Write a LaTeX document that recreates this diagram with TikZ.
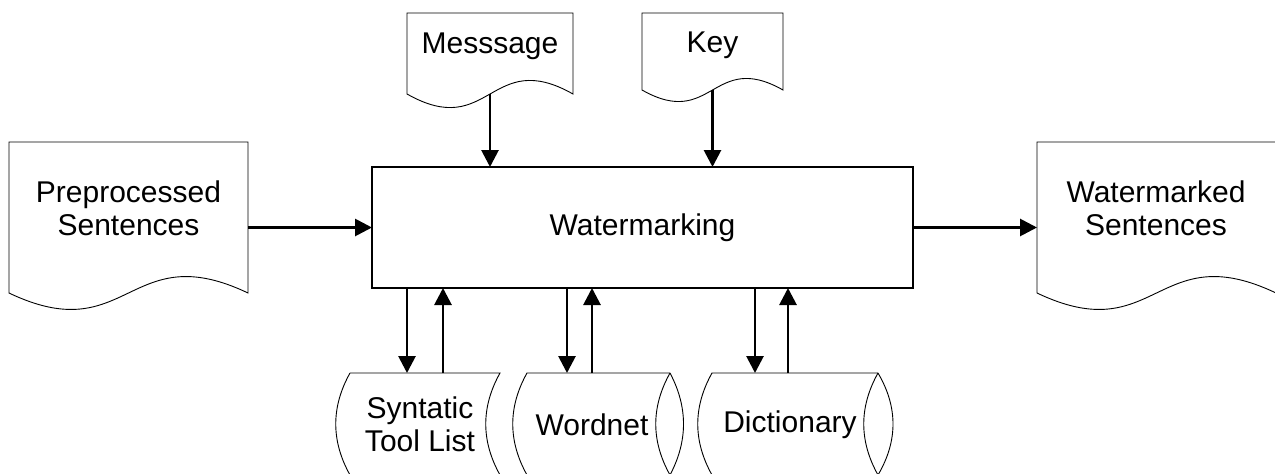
\documentclass[tikz,border=0pt]{standalone}
\usepackage{fontspec}
\setmainfont{Liberation Sans}
\usetikzlibrary{arrows.meta}

% document symbol: flat top, straight sides, wavy bottom
\newcommand\docshape[2]{%
  \draw[outline] (#1.north west) -- (#1.north east) -- (#1.south east)
    .. controls ([yshift=#2]#1.south) and ([yshift=-#2]#1.south) .. (#1.south west) -- cycle;}
% left-hand curved edge of a storage symbol (bulges outwards to the left)
\newcommand\leftarc[3]{%
  (#1) .. controls ([shift={(-#3,34)}]#1) and ([shift={(-#3,-34)}]#2) .. (#2)}

\begin{document}
\begin{tikzpicture}[x=1pt,y=-1pt,
  outline/.style={draw=black, line width=0.9pt},
  frame/.style={inner sep=0pt, outer sep=0pt, draw=none},
  lbl/.style={font=\fontsize{30}{33}\selectfont, align=center, inner sep=0pt},
  procbox/.style={draw=black, line width=1.2pt, inner sep=0pt, outer sep=0pt},
  arr/.style={line width=2.8pt, -{Triangle[width=17pt,length=17pt]}},
]
\useasboundingbox (0,0) rectangle (1275,474);
\clip (0,0) rectangle (1275,474);

% central process
\node[procbox, lbl, minimum width=541pt, minimum height=121pt] (wm) at (642.5,227.5) {Watermarking};

% input and output documents
\node[frame, minimum width=239pt, minimum height=151pt] (pre) at (128.5,217.5) {};
\docshape{pre}{57pt}
\node[lbl] (pretext) at (128.5,208) {Preprocessed\\Sentences};

\node[frame, minimum width=166pt, minimum height=81pt] (msg) at (490,53.5) {};
\docshape{msg}{47pt}
\node[lbl] (msgtext) at (490,46) {Messsage};

\node[frame, minimum width=141pt, minimum height=77pt] (key) at (712.5,51.5) {};
\docshape{key}{40pt}
\node[lbl] (keytext) at (712.5,45) {Key};

\node[frame, minimum width=239pt, minimum height=151pt] (out) at (1156.5,217.5) {};
\docshape{out}{57pt}
\node[lbl] (outtext) at (1156,208) {Watermarked\\Sentences};

% stored data: syntactic tool list
\node[frame, minimum width=150pt, minimum height=102pt] (syn) at (425,424) {};
\draw[outline] (syn.north west) -- (syn.north east)
  .. controls ([shift={(-19,34)}]syn.north east) and ([shift={(-19,-34)}]syn.south east) .. (syn.south east)
  -- (syn.south west)
  .. controls ([shift={(-19,-34)}]syn.south west) and ([shift={(-19,34)}]syn.north west) .. (syn.north west);
\node[lbl] (syntext) at (420,424) {Syntatic\\Tool List};

% direct access storage: wordnet
\node[frame, minimum width=143pt, minimum height=102pt] (wn) at (598.5,424) {};
\draw[outline] (wn.north east) -- (wn.north west)
  .. controls ([shift={(-19,34)}]wn.north west) and ([shift={(-19,-34)}]wn.south west) .. (wn.south west)
  -- (wn.south east);
\draw[outline] (wn.north east)
  .. controls ([shift={(-19,34)}]wn.north east) and ([shift={(-19,-34)}]wn.south east) .. (wn.south east)
  .. controls ([shift={(18,-34)}]wn.south east) and ([shift={(18,34)}]wn.north east) .. (wn.north east);
\node[lbl] (wntext) at (592,425) {Wordnet};

% direct access storage: dictionary
\node[frame, minimum width=166pt, minimum height=102pt] (dic) at (795,424) {};
\draw[outline] (dic.north east) -- (dic.north west)
  .. controls ([shift={(-19,34)}]dic.north west) and ([shift={(-19,-34)}]dic.south west) .. (dic.south west)
  -- (dic.south east);
\draw[outline] (dic.north east)
  .. controls ([shift={(-19,34)}]dic.north east) and ([shift={(-19,-34)}]dic.south east) .. (dic.south east)
  .. controls ([shift={(20,-34)}]dic.south east) and ([shift={(20,34)}]dic.north east) .. (dic.north east);
\node[lbl] (dictext) at (790,425) {Dictionary};

% connector columns under the process box
\coordinate (c1) at (407,0);
\coordinate (c2) at (443,0);
\coordinate (c3) at (567,0);
\coordinate (c4) at (592,0);
\coordinate (c5) at (755,0);
\coordinate (c6) at (788,0);

% flows
\draw[arr] (pre.east |- wm.west) -- (wm.west);
\draw[arr] (wm.east) -- (out.west |- wm.east);
\draw[arr] (msg.south) -- (wm.north -| msg.south);
\draw[arr] (key.south) -- (wm.north -| key.south);

\draw[arr] (wm.south -| c1) -- (syn.north -| c1);
\draw[arr] (syn.north -| c2) -- (wm.south -| c2);
\draw[arr] (wm.south -| c3) -- (wn.north -| c3);
\draw[arr] (wn.north -| c4) -- (wm.south -| c4);
\draw[arr] (wm.south -| c5) -- (dic.north -| c5);
\draw[arr] (dic.north -| c6) -- (wm.south -| c6);
\end{tikzpicture}
\end{document}
